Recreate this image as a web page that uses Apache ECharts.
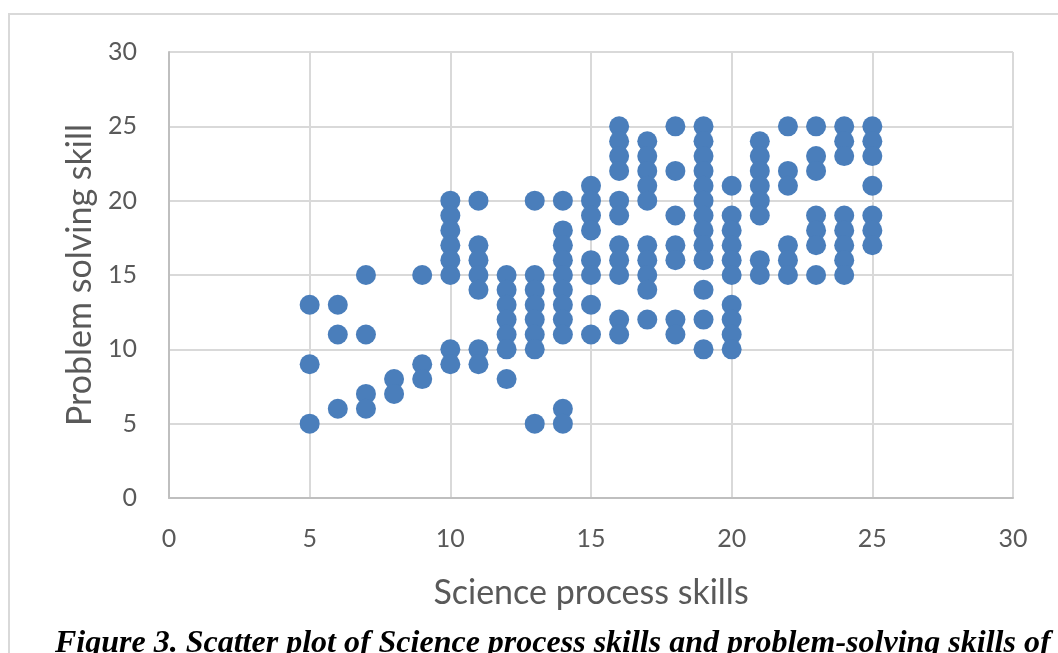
<!DOCTYPE html>
<html>
<head>
<meta charset="utf-8">
<script src="https://cdn.jsdelivr.net/npm/echarts@6/dist/echarts.min.js"></script>
<style>
  html, body { margin: 0; padding: 0; background: #ffffff; }
  #chart { width: 1058px; height: 653px; }
</style>
</head>
<body>
<div id="chart"></div>
<script>
// Science process skill scores (x) and the problem solving scores observed at each one (y)
const scienceScores = [5, 6, 7, 8, 9, 10, 11, 12, 13, 14, 15, 16, 17, 18, 19, 20, 21, 22, 23, 24, 25];
const problemScores = [
  [13, 9, 5],
  [13, 11, 6],
  [15, 11, 7, 6],
  [8, 7],
  [15, 9, 8],
  [20, 19, 18, 17, 16, 15, 10, 9],
  [20, 17, 16, 15, 14, 10, 9],
  [15, 14, 13, 12, 11, 10, 8],
  [20, 15, 14, 13, 12, 11, 10, 5],
  [20, 18, 17, 16, 15, 14, 13, 12, 11, 6, 5],
  [21, 20, 19, 18, 16, 15, 13, 11],
  [25, 24, 23, 22, 20, 19, 17, 16, 15, 12, 11],
  [24, 23, 22, 21, 20, 17, 16, 15, 14, 12],
  [25, 22, 19, 17, 16, 12, 11],
  [25, 24, 23, 22, 21, 20, 19, 18, 17, 16, 14, 12, 10],
  [21, 19, 18, 17, 16, 15, 13, 12, 11, 10],
  [24, 23, 22, 21, 20, 19, 16, 15],
  [25, 22, 21, 17, 16, 15],
  [25, 23, 22, 19, 18, 17, 15],
  [25, 24, 23, 19, 18, 17, 16, 15],
  [25, 24, 23, 21, 19, 18, 17]
];
const xAxisTitle = 'Science process skills';
const yAxisTitle = 'Problem solving skill';
const captionText = 'Figure 3. Scatter plot of Science process skills and problem-solving skills of';

const points = [];
scienceScores.forEach((x, i) => {
  problemScores[i].forEach(y => points.push([x, y]));
});

const labelFont = 'Lato, "Open Sans", sans-serif';
const chart = echarts.init(document.getElementById('chart'), null, { renderer: 'canvas' });

chart.setOption({
  backgroundColor: '#ffffff',
  animation: false,
  grid: { left: 169, right: 45, top: 52, bottom: 155, containLabel: false },
  xAxis: {
    type: 'value',
    min: 0, max: 30, interval: 5,
    name: xAxisTitle,
    nameLocation: 'middle',
    nameGap: 78,
    nameTextStyle: { color: '#595959', fontSize: 34, fontFamily: labelFont },
    axisLine: { show: true, lineStyle: { color: '#bfbfbf', width: 2 } },
    axisTick: { show: false },
    axisLabel: { color: '#595959', fontSize: 25, fontFamily: labelFont, margin: 28 },
    splitLine: { show: true, lineStyle: { color: '#d9d9d9', width: 2 } }
  },
  yAxis: {
    type: 'value',
    min: 0, max: 30, interval: 5,
    name: yAxisTitle,
    nameLocation: 'middle',
    nameGap: 72,
    nameRotate: 90,
    nameTextStyle: { color: '#595959', fontSize: 34, fontFamily: labelFont },
    axisLine: { show: true, lineStyle: { color: '#bfbfbf', width: 2 } },
    axisTick: { show: false },
    axisLabel: { color: '#595959', fontSize: 25, fontFamily: labelFont, margin: 32 },
    splitLine: { show: true, lineStyle: { color: '#d9d9d9', width: 2 } }
  },
  series: [{
    type: 'scatter',
    data: points,
    symbol: 'circle',
    symbolSize: 20,
    itemStyle: { color: '#4a7ebb', opacity: 1 }
  }],
  graphic: [
    {
      type: 'rect',
      shape: { x: 9, y: 14, width: 1200, height: 800 },
      style: { fill: 'none', stroke: '#d9d9d9', lineWidth: 2 },
      silent: true
    },
    {
      type: 'text',
      x: 55, y: 660,
      style: {
        text: captionText,
        font: 'italic bold 32px "Liberation Serif", "Times New Roman", serif',
        fill: '#000000',
        textVerticalAlign: 'bottom'
      },
      silent: true
    }
  ]
});
</script>
</body>
</html>
